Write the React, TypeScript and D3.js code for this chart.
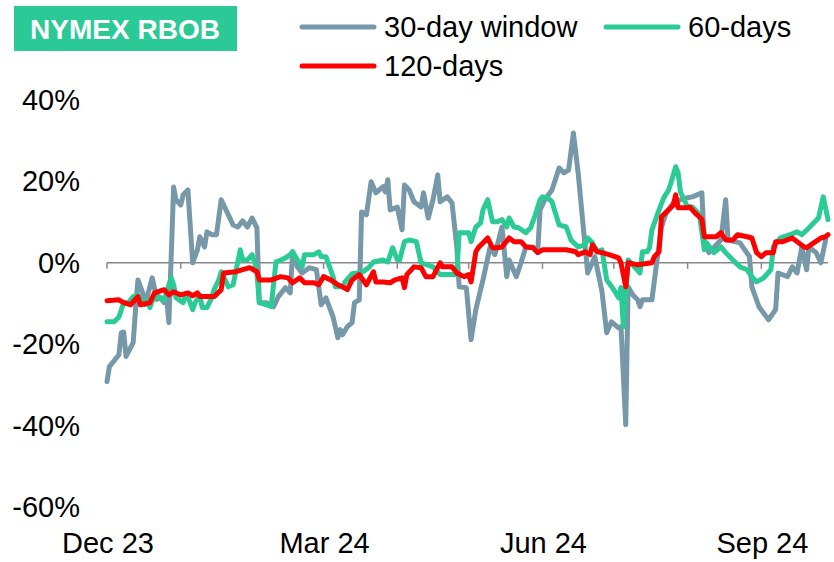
import React from 'react';
import * as d3 from 'd3';

// 30-day, 60-day and 120-day rolling values, in %
const window30: [string, number][] = [
  ["2023-12-01",-29.2],["2023-12-02",-25.5],["2023-12-06",-22.6],["2023-12-07",-17.2],["2023-12-08",-17],["2023-12-09",-23],
  ["2023-12-12",-19.6],["2023-12-13",-11.5],["2023-12-14",-4.2],["2023-12-16",-7.4],["2023-12-17",-10.3],["2023-12-20",-3.7],
  ["2023-12-22",-9],["2023-12-23",-8.3],["2023-12-25",-9.8],["2023-12-26",-8.3],["2023-12-27",-14.7],["2023-12-29",18.6],
  ["2023-12-30",15.5],["2024-01-01",14.2],["2024-01-02",16.7],["2024-01-04",17.9],["2024-01-06",0],["2024-01-08",3.2],
  ["2024-01-09",6.4],["2024-01-11",3.9],["2024-01-12",7.6],["2024-01-14",6.9],["2024-01-16",6.9],["2024-01-18",15.5],
  ["2024-01-23",9.3],["2024-01-25",8.8],["2024-01-27",10.3],["2024-01-29",8.8],["2024-01-31",11],["2024-02-02",8.6],
  ["2024-02-03",-9.8],["2024-02-06",-9.8],["2024-02-09",-10.8],["2024-02-11",-8.3],["2024-02-14",-6.1],["2024-02-16",-7.4],
  ["2024-02-17",2.7],["2024-02-18",1.2],["2024-02-19",-1],["2024-02-21",-2.5],["2024-02-24",-1.2],["2024-02-27",-1.7],
  ["2024-02-29",-10.3],["2024-03-02",-8.6],["2024-03-05",-13.3],["2024-03-07",-18.4],["2024-03-08",-16.4],["2024-03-09",-17.7],
  ["2024-03-11",-15.7],["2024-03-13",-14.7],["2024-03-14",-9.8],["2024-03-16",-9.1],["2024-03-17",12.5],["2024-03-19",11.8],
  ["2024-03-21",19.9],["2024-03-23",17.2],["2024-03-26",18.7],["2024-03-27",17.4],["2024-03-28",20.4],["2024-03-29",13],
  ["2024-04-01",13.7],["2024-04-03",8.1],["2024-04-04",19.1],["2024-04-06",17.9],["2024-04-08",15],["2024-04-11",13.7],
  ["2024-04-12",17.2],["2024-04-14",11],["2024-04-16",15.5],["2024-04-18",21.6],["2024-04-19",15],["2024-04-22",16.2],
  ["2024-04-24",14.7],["2024-04-26",3.9],["2024-04-27",-5.9],["2024-04-30",-6.1],["2024-05-02",-18.9],["2024-05-04",-11.5],
  ["2024-05-07",-4.2],["2024-05-10",3.9],["2024-05-12",2],["2024-05-15",8.8],["2024-05-17",-3.4],["2024-05-18",0.7],
  ["2024-05-21",-3.4],["2024-05-23",0],["2024-05-25",3.9],["2024-05-28",3.9],["2024-05-30",2.5],["2024-05-31",13],
  ["2024-06-02",15.5],["2024-06-05",17.9],["2024-06-08",23.3],["2024-06-10",22.1],["2024-06-12",22.8],["2024-06-14",31.9],
  ["2024-06-16",22.1],["2024-06-18",9.8],["2024-06-20",-2.5],["2024-06-23",1.5],["2024-06-26",-7],["2024-06-28",-17.2],
  ["2024-06-30",-14.5],["2024-07-03",-16],["2024-07-04",-15.7],["2024-07-06",-39.8],["2024-07-07",-5.9],["2024-07-09",-7.9],
  ["2024-07-11",-9.1],["2024-07-12",-10.8],["2024-07-13",-9.1],["2024-07-17",-9.1],["2024-07-19",0],["2024-07-21",8.8],
  ["2024-07-23",12.3],["2024-07-26",14.7],["2024-07-29",15.5],["2024-08-01",16],["2024-08-03",16.2],["2024-08-07",17.2],
  ["2024-08-08",4.9],["2024-08-10",2.5],["2024-08-15",5.6],["2024-08-17",15.5],["2024-08-18",5.6],["2024-08-23",4.9],
  ["2024-08-27",1.5],["2024-08-28",-5.9],["2024-08-31",-10.8],["2024-09-04",-14],["2024-09-07",-11.5],["2024-09-08",-2.5],
  ["2024-09-12",-3.4],["2024-09-14",-1],["2024-09-16",-2.5],["2024-09-18",3.9],["2024-09-20",-1.7],["2024-09-21",3.9],
  ["2024-09-24",2.5],["2024-09-26",0],["2024-09-28",5.6],
];

const days60: [string, number][] = [
  ["2023-12-01",-14.5],["2023-12-04",-14.5],["2023-12-06",-13.3],["2023-12-08",-9.8],["2023-12-10",-9.8],["2023-12-12",-8.3],
  ["2023-12-14",-7.9],["2023-12-16",-9.8],["2023-12-18",-9.1],["2023-12-19",-11],["2023-12-21",-7.9],["2023-12-23",-8.6],
  ["2023-12-25",-9.1],["2023-12-28",-3.7],["2023-12-29",-5.4],["2023-12-30",-8.6],["2024-01-02",-9.8],["2024-01-03",-7.9],
  ["2024-01-04",-8.3],["2024-01-06",-11.5],["2024-01-07",-9.8],["2024-01-09",-7.9],["2024-01-10",-11],["2024-01-12",-11],
  ["2024-01-14",-8.6],["2024-01-15",-6.6],["2024-01-17",-4.2],["2024-01-18",-2.2],["2024-01-21",-5.9],["2024-01-23",-5.4],
  ["2024-01-26",3.2],["2024-01-27",0.7],["2024-01-29",0.7],["2024-01-31",2],["2024-02-01",0.2],["2024-02-02",-2.5],
  ["2024-02-03",-9.8],["2024-02-06",-10.3],["2024-02-08",-10.8],["2024-02-10",0.2],["2024-02-12",0.7],["2024-02-14",1.2],
  ["2024-02-16",2],["2024-02-17",2.7],["2024-02-19",0.7],["2024-02-21",-1],["2024-02-22",2],["2024-02-26",2],
  ["2024-02-28",2.7],["2024-02-29",1.5],["2024-03-02",1.5],["2024-03-05",-3.4],["2024-03-06",-5.9],["2024-03-09",-5.9],
  ["2024-03-10",-4.7],["2024-03-13",-2.7],["2024-03-17",-2.4],["2024-03-20",-1.2],["2024-03-22",0.2],["2024-03-26",0.7],
  ["2024-03-28",0.2],["2024-03-30",3.7],["2024-04-01",0.7],["2024-04-02",0.7],["2024-04-04",5.2],["2024-04-06",5.6],
  ["2024-04-09",5.2],["2024-04-11",0],["2024-04-16",-1],["2024-04-19",-2.9],["2024-04-26",-2.9],["2024-04-27",7.4],
  ["2024-05-01",7.4],["2024-05-02",5.2],["2024-05-04",8.8],["2024-05-06",9.8],["2024-05-07",13],["2024-05-09",15.5],
  ["2024-05-11",10.1],["2024-05-13",10.1],["2024-05-15",10.6],["2024-05-17",8.8],["2024-05-18",11],["2024-05-20",8.8],
  ["2024-05-22",8.6],["2024-05-25",7.4],["2024-05-27",8.6],["2024-05-29",11.8],["2024-05-31",15.5],["2024-06-01",16.2],
  ["2024-06-03",16],["2024-06-05",15],["2024-06-08",9.3],["2024-06-11",8.8],["2024-06-13",5.6],["2024-06-16",3.9],
  ["2024-06-19",4.4],["2024-06-20",6.1],["2024-06-22",4.9],["2024-06-24",2.7],["2024-06-26",3.2],["2024-06-28",-4.2],
  ["2024-07-01",-6.6],["2024-07-03",-8.6],["2024-07-04",-6.1],["2024-07-05",-15.7],["2024-07-07",0.7],["2024-07-10",-1.2],
  ["2024-07-12",-2.5],["2024-07-13",2.7],["2024-07-15",2.7],["2024-07-16",3.7],["2024-07-17",8.1],["2024-07-20",13],
  ["2024-07-22",16],["2024-07-24",17.9],["2024-07-25",19.6],["2024-07-27",23.6],["2024-07-28",22.1],["2024-07-29",17.4],
  ["2024-08-01",13.7],["2024-08-03",13.7],["2024-08-06",11.8],["2024-08-08",3.2],["2024-08-09",4.9],["2024-08-12",2.5],
  ["2024-08-15",3.9],["2024-08-17",2.5],["2024-08-20",0.7],["2024-08-23",-1],["2024-08-26",-1.7],["2024-08-28",-3.4],
  ["2024-08-30",-4.7],["2024-09-02",-3.7],["2024-09-05",-1.7],["2024-09-06",3.9],["2024-09-09",6.1],["2024-09-13",6.9],
  ["2024-09-16",7.6],["2024-09-18",6.9],["2024-09-21",8.6],["2024-09-25",11],["2024-09-27",16.2],["2024-09-29",10.6],
];

const days120: [string, number][] = [
  ["2023-12-01",-9.3],["2023-12-06",-9.1],["2023-12-08",-9.8],["2023-12-11",-10.3],["2023-12-14",-8.3],["2023-12-15",-10.3],
  ["2023-12-19",-9.8],["2023-12-21",-7.4],["2023-12-25",-6.6],["2023-12-27",-7.9],["2023-12-29",-7.1],["2024-01-01",-7.9],
  ["2024-01-04",-7.4],["2024-01-06",-8.1],["2024-01-08",-7.4],["2024-01-09",-8.3],["2024-01-15",-8.3],["2024-01-18",-6.6],
  ["2024-01-19",-2.5],["2024-01-24",-2.2],["2024-01-27",-1.7],["2024-01-30",-1.2],["2024-02-02",-2.2],["2024-02-03",-4.2],
  ["2024-02-08",-4.2],["2024-02-12",-3.4],["2024-02-15",-3.7],["2024-02-17",-4.9],["2024-02-20",-3.7],["2024-02-22",-4.9],
  ["2024-02-26",-4.9],["2024-02-28",-5.4],["2024-03-01",-3.4],["2024-03-04",-4.2],["2024-03-07",-5.4],["2024-03-09",-5.9],
  ["2024-03-11",-6.6],["2024-03-13",-4.2],["2024-03-16",-2.9],["2024-03-19",-5.4],["2024-03-22",-2.2],["2024-03-23",-4.7],
  ["2024-03-26",-4.7],["2024-03-29",-4.9],["2024-03-31",-4.2],["2024-04-03",-3.7],["2024-04-04",-6.1],["2024-04-05",-2.9],
  ["2024-04-08",-1],["2024-04-11",-1.2],["2024-04-13",-3.4],["2024-04-16",-3.4],["2024-04-19",0],["2024-04-20",-1],
  ["2024-04-24",-1],["2024-04-26",-2.5],["2024-04-29",-3.4],["2024-05-01",-2.9],["2024-05-02",-4.7],["2024-05-04",2.7],
  ["2024-05-05",3.7],["2024-05-09",6.1],["2024-05-11",3.7],["2024-05-13",3.7],["2024-05-15",3.9],["2024-05-18",6.1],
  ["2024-05-20",5.2],["2024-05-23",5.2],["2024-05-25",3.9],["2024-05-28",3.7],["2024-05-30",2.5],["2024-06-01",3.2],
  ["2024-06-07",3.2],["2024-06-11",3.2],["2024-06-15",2.7],["2024-06-16",2],["2024-06-19",2.7],["2024-06-21",2],
  ["2024-06-22",4.4],["2024-06-24",2.7],["2024-06-26",2.5],["2024-06-29",2],["2024-07-03",1.2],["2024-07-04",0],
  ["2024-07-06",-5.9],["2024-07-07",0],["2024-07-11",-0.5],["2024-07-17",0],["2024-07-18",1.5],["2024-07-20",2.7],
  ["2024-07-21",11.3],["2024-07-24",13],["2024-07-26",14.2],["2024-07-27",16.7],["2024-07-28",13.5],["2024-08-01",13.5],
  ["2024-08-02",13.7],["2024-08-04",12.3],["2024-08-06",11.3],["2024-08-07",10.6],["2024-08-08",6.4],["2024-08-13",6.4],
  ["2024-08-15",7.4],["2024-08-17",5.6],["2024-08-20",5.6],["2024-08-22",6.9],["2024-08-26",6.4],["2024-08-28",6.1],
  ["2024-08-30",2.5],["2024-09-01",1.5],["2024-09-03",2.5],["2024-09-06",2.5],["2024-09-07",5.2],["2024-09-10",5.2],
  ["2024-09-14",6.1],["2024-09-16",5.2],["2024-09-19",3.9],["2024-09-20",3.7],["2024-09-23",4.9],["2024-09-26",6.1],
  ["2024-09-28",6.4],["2024-09-29",6.9],
];

const yTicks = [40, 20, 0, -20, -40, -60];
const xLabels = ["2023-12-01", "2024-03-01", "2024-06-01", "2024-09-01"];

const series = [
  { name: "30-day window", data: window30, color: "#7698a8" },
  { name: "60-days", data: days60, color: "#2bcb95" },
  { name: "120-days", data: days120, color: "#ff0000" },
];

const parse = d3.timeParse("%Y-%m-%d");
const font = "'Liberation Sans', Arial, sans-serif";

export default function App() {
  const width = 834;
  const height = 562;

  const x = d3.scaleTime()
    .domain([parse("2023-12-01")!, parse("2024-09-29")!])
    .range([107, 828]);
  const y = d3.scaleLinear().domain([-60, 40]).range([507, 100]);

  const line = d3.line<[string, number]>()
    .x(d => x(parse(d[0])!))
    .y(d => y(d[1]));

  const monthTicks = d3.timeMonth.range(parse("2023-12-01")!, parse("2024-09-30")!);
  const fmt = d3.timeFormat("%b %y");

  return (
    <svg width={width} height={height}
      style={{ position: 'absolute', left: 0, top: 0, background: '#fff' }}
      fontFamily={font}>
      {/* title box */}
      <rect x={14} y={6} width={223} height={45} fill="#2bc995" />
      <text x={125} y={39} textAnchor="middle" fill="#fff" fontWeight="bold" fontSize={28}>NYMEX RBOB</text>

      {/* legend */}
      {[
        { s: series[0], lx: 302, ly: 27 },
        { s: series[1], lx: 606, ly: 27 },
        { s: series[2], lx: 302, ly: 66 },
      ].map(({ s, lx, ly }) => (
        <g key={s.name}>
          <line x1={lx} x2={lx + 72} y1={ly} y2={ly} stroke={s.color} strokeWidth={5} strokeLinecap="round" />
          <text x={lx + 82} y={ly + 10} fontSize={29} fill="#000">{s.name}</text>
        </g>
      ))}

      {/* y labels */}
      {yTicks.map(t => (
        <text key={t} x={80} y={y(t) + 10} textAnchor="end" fontSize={29} fill="#000">{t}%</text>
      ))}

      {/* zero axis with month ticks */}
      <line x1={x.range()[0]} x2={x.range()[1]} y1={y(0)} y2={y(0)} stroke="#888" strokeWidth={1.5} />
      {monthTicks.map(m => (
        <line key={m.toISOString()} x1={x(m)} x2={x(m)} y1={y(0)} y2={y(0) + 6} stroke="#888" strokeWidth={1.5} />
      ))}
      {xLabels.map(d => {
        const dt = parse(d)!;
        return (
          <text key={d} x={x(dt) + 1} y={553} textAnchor="middle" fontSize={29} fill="#000">{fmt(dt)}</text>
        );
      })}

      {/* series */}
      {series.map(s => (
        <path key={s.name} d={line(s.data) || ''} fill="none" stroke={s.color}
          strokeWidth={5} strokeLinejoin="round" strokeLinecap="round" />
      ))}
    </svg>
  );
}
